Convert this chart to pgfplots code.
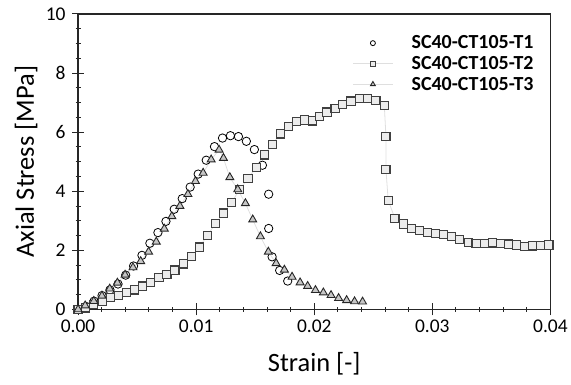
\documentclass[border=0pt]{standalone}
\usepackage{pgfplots}
\pgfplotsset{compat=1.18}
\usepackage{fontspec}
\setmainfont{Carlito}
\begin{document}
\begin{tikzpicture}
\begin{axis}[
  scale only axis,
  width=473.7bp, height=296.3bp,
  xmin=0, xmax=0.04, ymin=0, ymax=10,
  xtick={0,0.01,0.02,0.03,0.04},
  ytick={0,2,4,6,8,10},
  scaled x ticks=false,
  minor x tick num=4,
  minor y tick num=3,
  xtick pos=bottom, ytick pos=left,
  tick align=center,
  major tick length=12bp,
  minor tick length=5bp,
  axis line style={black!85, line width=1.2bp},
  every tick/.style={black!85, line width=1bp},
  xticklabel style={/pgf/number format/fixed, /pgf/number format/fixed zerofill, /pgf/number format/precision=2, yshift=-1bp},
  yticklabel style={xshift=-3bp},
  /pgf/number format/assume math mode=true,
  tick label style={font=\fontsize{19.5bp}{22bp}\selectfont},
  xlabel={Strain [-]}, ylabel={Axial Stress [MPa]},
  label style={font=\fontsize{26.5bp}{30bp}\selectfont},
  xlabel style={at={(axis description cs:0.5,-0.185)}, anchor=center},
  ylabel style={at={(axis description cs:-0.11,0.5)}, anchor=center, rotate=0},
  legend style={draw=none, fill=none, at={(0.975,0.94)}, anchor=north east,
    font=\fontsize{20bp}{22bp}\selectfont\bfseries, row sep=2bp},
  legend cell align=left,
  legend image code/.code={%
    \draw[mark repeat=2,mark phase=2,#1, /tikz/every mark/.append style={scale=0.6}] plot coordinates {(0cm,0cm) (0.7cm,0cm) (1.4cm,0cm)};
    \path[draw=none, fill=none] (1.4cm,0cm) -- (2.0cm,0cm);},
]
\coordinate (O) at (rel axis cs:0,0);
\addplot[only marks, mark=o, mark size=4.2bp, mark options={draw=black, line width=0.8bp}] coordinates {
(0,0) (0.00068,0.10) (0.00135,0.28) (0.00203,0.47) (0.0027,0.66)
(0.00338,0.86) (0.00403,1.16) (0.00470,1.47) (0.00541,1.83) (0.00608,2.24)
(0.00676,2.60) (0.00744,2.98) (0.00814,3.39) (0.00882,3.75) (0.00949,4.14)
(0.01017,4.58) (0.01085,5.05) (0.01155,5.51) (0.01223,5.80) (0.01290,5.88)
(0.01358,5.85) (0.01425,5.69) (0.01493,5.41) (0.01561,4.88) (0.01614,3.90)
(0.01614,2.74) (0.01643,1.78) (0.01707,1.32) (0.01775,0.96)
};
\addlegendentry{SC40-CT105-T1}
\addplot[gray!25, line width=0.8bp, mark=square*, mark size=4.1bp,
  mark options={fill=gray!15, draw=black!75, line width=1.1bp, solid}] coordinates {
(0,0) (0.00065,0.05) (0.00133,0.16) (0.00205,0.28) (0.00274,0.41)
(0.00341,0.47) (0.00409,0.57) (0.00479,0.66) (0.00547,0.79) (0.00615,0.92)
(0.00685,1.07) (0.00752,1.17) (0.0082,1.33) (0.0089,1.54) (0.00958,1.79)
(0.01029,2.11) (0.01093,2.50) (0.01163,2.90) (0.01231,3.26) (0.01301,3.63)
(0.01369,4.06) (0.01439,4.44) (0.01510,4.81) (0.01577,5.23) (0.01645,5.59)
(0.01713,5.94) (0.01780,6.19) (0.01848,6.36) (0.01915,6.41) (0.01983,6.38)
(0.02043,6.52) (0.02108,6.68) (0.02176,6.81) (0.0224,6.94) (0.02311,7.05)
(0.02381,7.14) (0.02451,7.15) (0.02522,7.07) (0.02593,6.91) (0.02607,5.86)
(0.02607,4.74) (0.02626,3.69) (0.02683,3.08) (0.02753,2.89) (0.02823,2.74)
(0.02891,2.66) (0.02959,2.60) (0.03026,2.58) (0.03094,2.54) (0.03165,2.48)
(0.03232,2.37) (0.03303,2.26) (0.0337,2.23) (0.0344,2.23) (0.03508,2.25)
(0.03576,2.23) (0.03643,2.21) (0.03714,2.18) (0.03782,2.13) (0.0385,2.15)
(0.0392,2.17) (0.03987,2.18)
};
\addlegendentry{SC40-CT105-T2}
\addplot[gray!25, line width=0.8bp, mark=triangle*, mark size=4.6bp,
  mark options={fill=gray!45, draw=black!85, line width=0.9bp, solid}] coordinates {
(0,0) (0.00060,0.13) (0.00133,0.28) (0.00202,0.46) (0.00268,0.70)
(0.00333,0.90) (0.00398,1.17) (0.00465,1.42) (0.00530,1.63) (0.00597,1.95)
(0.00662,2.29) (0.00730,2.73) (0.00794,3.15) (0.00862,3.50) (0.00930,3.90)
(0.00994,4.34) (0.01059,4.62) (0.01127,5.07) (0.01194,5.40) (0.01231,5.12)
(0.01285,4.47) (0.01352,4.06) (0.01417,3.59) (0.01479,3.04) (0.01544,2.47)
(0.01611,1.95) (0.01677,1.56) (0.01747,1.34) (0.01812,1.10) (0.0188,0.91)
(0.01944,0.79) (0.0201,0.65) (0.02077,0.57) (0.02142,0.48) (0.02206,0.38)
(0.02274,0.31) (0.02341,0.27) (0.02409,0.26)
};
\addlegendentry{SC40-CT105-T3}
\end{axis}
\path (O) ++(-78.3bp,-75.7bp) rectangle ++(571bp,386bp);
\end{tikzpicture}
\end{document}
